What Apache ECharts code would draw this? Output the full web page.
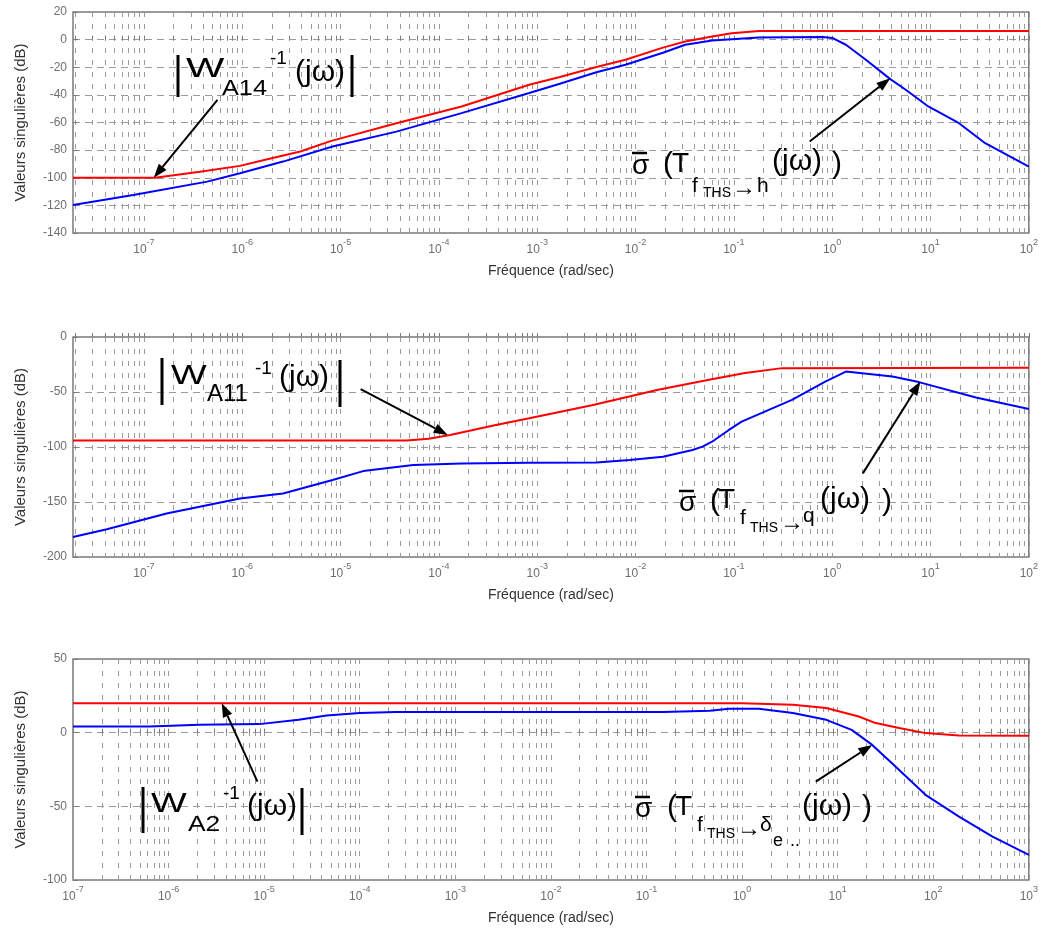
<!DOCTYPE html>
<html><head><meta charset="utf-8">
<script src="https://cdn.jsdelivr.net/npm/echarts@6.0.0/dist/echarts.min.js"></script>
<style>html,body{margin:0;padding:0;background:#fff}#c{width:1041px;height:930px}</style>
</head><body><div id="c"></div>
<script>
// ---------- DATA ----------
// Plot 1 : |W_A14^-1| (red) and sigma(T f->h) (blue)
const w1Red  = [1.9e-8, 1.3e-7, 3.7e-7, 9.5e-7, 1.8e-6, 3.9e-6, 7.9e-6, 3.7e-5, 1.7e-4, 8.3e-4, 1.7e-3, 4e-3, 7.9e-3, 1.9e-2, 3.2e-2, 6e-2, 9.5e-2, 0.18, 100];
const db1Red = [-100, -100, -95.6, -91.4, -86.6, -81, -73.5, -60.5, -48.4, -32.7, -27.1, -19.8, -14.6, -5.8, -1.3, 2.3, 4.6, 6.2, 6.2];
const w1Blue  = [1.9e-8, 7.8e-8, 4.4e-7, 9.5e-7, 2.6e-6, 8.3e-6, 3.7e-5, 1.7e-4, 8.3e-4, 1.7e-3, 4e-3, 7.9e-3, 1.9e-2, 3.2e-2, 6e-2, 0.18, 0.8, 1, 1.38, 2.2, 3.9, 5.6, 9.5, 19.5, 36, 100];
const db1Blue = [-119.7, -112.5, -102.8, -96.7, -88.3, -77.4, -66.6, -53.2, -38.7, -32, -23.6, -18.2, -9.5, -3.7, -0.6, 1.6, 1.9, 1.2, -3.7, -14.6, -28.6, -36.3, -48.4, -60.5, -75, -92];
// Plot 2 : |W_A11^-1| (red) and sigma(T f->q) (blue)
const w2Red  = [1.9e-8, 4.7e-5, 7.9e-5, 1.3e-4, 3.8e-4, 8.3e-4, 3.6e-3, 1.7e-2, 5.6e-2, 0.13, 0.31, 100];
const db2Red = [-94, -94, -92.5, -89, -80, -73.9, -62, -48, -38.9, -32.8, -28.3, -28];
const w2Blue  = [1.9e-8, 4.2e-8, 1.7e-7, 9.5e-7, 2.6e-6, 8.3e-6, 1.7e-5, 5.5e-5, 1.7e-4, 8.3e-4, 4e-3, 8.7e-3, 1.9e-2, 3.8e-2, 4.8e-2, 6e-2, 8.9e-2, 0.12, 0.39, 0.85, 1.38, 4.1, 7.6, 29, 100];
const db2Blue = [-181.8, -174.8, -160.4, -146.8, -142.2, -130, -121.9, -116.4, -114.9, -114.3, -114, -111.8, -108.8, -102.7, -99.7, -95.2, -84.5, -76.9, -57.2, -40.5, -31.4, -35.9, -41, -55, -65.4];
// Plot 3 : |W_A2^-1| (red) and sigma(T f->delta_e) (blue)
const w3Red  = [1e-7, 1, 3.4, 7.6, 16.6, 25, 44, 83, 186, 1000];
const db3Red = [20, 20, 19, 16.7, 11, 6.5, 3.1, -0.3, -1.9, -2.1];
const w3Blue  = [1e-7, 6.3e-7, 2.1e-6, 8.9e-6, 2.3e-5, 4.5e-5, 1e-4, 2.4e-4, 6e-3, 0.15, 0.46, 0.73, 1, 1.5, 3.4, 7.6, 14, 23, 37, 83, 186, 417, 1000];
const db3Blue = [4.2, 4.2, 5.3, 5.8, 8.7, 11.7, 13.3, 14, 14, 14, 14.9, 16.2, 16.2, 16.2, 13.3, 8.7, 1.9, -8.3, -20.7, -42.2, -57, -70.6, -83];

// axes ranges / tick labels
const xRange = [[1.9e-8, 100], [1.9e-8, 100], [1e-7, 1000]];
const xExp = [[-7, -6, -5, -4, -3, -2, -1, 0, 1, 2], [-7, -6, -5, -4, -3, -2, -1, 0, 1, 2], [-7, -6, -5, -4, -3, -2, -1, 0, 1, 2, 3]];
const yRange = [[-140, 20, 20], [-200, 0, 50], [-100, 50, 50]];

// arrows [grid, fromW, fromDb, toW, toDb]
const arrows = [
  [0, 5.6e-7, -43.6, 1.26e-7, -100],
  [0, 0.59, -73.8, 3.9, -27.9],
  [1, 1.6e-5, -47.4, 1.23e-4, -89],
  [1, 2.05, -124, 7.9, -40.5],
  [2, 8.5e-6, -33.2, 3.6e-6, 20],
  [2, 5.9, -33.2, 23, -8.3]
];

// ---------- LAYOUT ----------
const FONT = "'Liberation Sans', Arial, Helvetica, sans-serif";
const grids = [
  {left: 73, right: 11, top: 12, height: 221},
  {left: 73, right: 11, top: 337, height: 220},
  {left: 73, right: 11, top: 659, height: 221}
];
const tickGray = '#6e6e6e', frame = '#7a7a7a', gridCol = '#9a9a9a';

function minorVals(min, max) {
  const out = [];
  const lo = Math.floor(Math.log10(min)), hi = Math.ceil(Math.log10(max));
  for (let e = lo; e <= hi; e++) for (let k = 1; k <= 9; k++) {
    const v = Number(k + 'e' + e);
    if (v >= min * 0.9999 && v <= max * 1.0001) out.push(v);
  }
  return out;
}

const xAxes = [], yAxes = [], series = [];
const reds = [[w1Red, db1Red], [w2Red, db2Red], [w3Red, db3Red]];
const blues = [[w1Blue, db1Blue], [w2Blue, db2Blue], [w3Blue, db3Blue]];
for (let i = 0; i < 3; i++) {
  grids[i].show = true; grids[i].borderColor = frame; grids[i].borderWidth = 1.5; grids[i].backgroundColor = 'transparent';
  xAxes.push({
    gridIndex: i, type: 'log', logBase: 10, min: xRange[i][0], max: xRange[i][1],
    axisLine: {show: false},
    axisTick: {show: true, inside: true, length: 4, customValues: minorVals(xRange[i][0], xRange[i][1]), lineStyle: {color: frame}},
    axisLabel: {
      customValues: xExp[i].map(e => Number('1e' + e)), margin: 5, showMinLabel: true, showMaxLabel: true,
      formatter: v => '{b|10}{s|' + Math.round(Math.log10(v)) + '}',
      rich: {
        b: {fontSize: 12, fontFamily: FONT, color: tickGray, padding: [6, 0, 0, 0], verticalAlign: 'bottom'},
        s: {fontSize: 9, fontFamily: FONT, color: tickGray, verticalAlign: 'top'}
      }
    },
    splitLine: {show: true, lineStyle: {color: gridCol, width: 1, type: [5, 7]}},
    name: 'Fréquence (rad/sec)', nameLocation: 'middle', nameGap: 31,
    nameTextStyle: {fontSize: 14, fontFamily: FONT, color: '#333'}
  });
  yAxes.push({
    gridIndex: i, type: 'value', min: yRange[i][0], max: yRange[i][1], interval: yRange[i][2],
    axisLine: {show: false},
    axisTick: {show: true, inside: true, length: 5, lineStyle: {color: frame}},
    axisLabel: {fontSize: 12, fontFamily: FONT, color: tickGray, margin: 6},
    splitLine: {show: true, lineStyle: {color: gridCol, width: 1, type: [7, 5]}},
    name: 'Valeurs singulières (dB)', nameLocation: 'middle', nameGap: 45,
    nameTextStyle: {fontSize: 15, fontFamily: FONT, color: '#333'}
  });
  series.push({
    type: 'line', xAxisIndex: i, yAxisIndex: i, showSymbol: false, symbol: 'none', silent: true,
    lineStyle: {color: '#ff0000', width: 2}, z: 3,
    data: reds[i][0].map((w, k) => [w, reds[i][1][k]])
  });
  series.push({
    type: 'line', xAxisIndex: i, yAxisIndex: i, showSymbol: false, symbol: 'none', silent: true,
    lineStyle: {color: '#0000ff', width: 2}, z: 2,
    data: blues[i][0].map((w, k) => [w, blues[i][1][k]])
  });
}

const chart = echarts.init(document.getElementById('c'), null, {renderer: 'canvas'});
chart.setOption({
  animation: false, backgroundColor: '#fff',
  grid: grids, xAxis: xAxes, yAxis: yAxes, series: series
});

// ---------- ANNOTATIONS ----------
function T(str, x, base, size, sx) {
  return {type: 'text', x: x, y: base - 0.31 * size, scaleX: sx || 1, z: 100,
    style: {text: str, fontSize: size, fontFamily: FONT, fill: '#000', align: 'left', verticalAlign: 'middle'}};
}
function bar(x, y1, y2, w) {
  return {type: 'line', z: 100, shape: {x1: x, y1: y1, x2: x, y2: y2}, style: {stroke: '#000', lineWidth: w || 3}};
}
function hbar(x1, x2, y) {
  return {type: 'line', z: 100, shape: {x1: x1, y1: y, x2: x2, y2: y}, style: {stroke: '#000', lineWidth: 2.5}};
}
const g = [];
// |W_A14^-1(jw)|
g.push(bar(178, 55, 97), T('W', 186, 78, 28, 1.45), T('A14', 222, 96, 22, 1.15), T('-1', 270, 65, 19), T('(jω)', 295, 82, 30), bar(352, 55, 97));
// |W_A11^-1(jw)|
g.push(bar(162, 358, 405), T('W', 171, 385, 28, 1.35), T('A11', 207, 402, 24), T('-1', 255, 375, 19), T('(jω)', 279, 387, 30), bar(340, 360, 407));
// |W_A2^-1(jw)|
g.push(bar(143, 787, 833), T('W', 151, 813, 28, 1.35), T('A2', 188, 832, 22, 1.2), T('-1', 223, 800, 19), T('(jω)', 247, 816, 30), bar(302, 788, 835));
// sigma top
g.push(T('σ', 632, 175, 28), hbar(632, 647, 153), T('(', 663, 174, 30), T('T', 672, 173, 28), T('f', 692, 193, 21),
  T('THS', 703, 197, 14), T('→', 732, 196, 24), T('h', 757, 193, 21), T('(jω)', 772, 171, 30), T(')', 832, 174, 30));
// sigma middle
g.push(T('σ', 679, 512, 28), hbar(679, 694, 491), T('(', 710, 511, 30), T('T', 718, 509, 28), T('f', 740, 525, 21),
  T('THS', 750, 532, 14), T('→', 780, 531, 24), T('q', 803, 523, 21), T('(jω)', 820, 509, 30), T(')', 882, 511, 30));
// sigma bottom
g.push(T('σ', 635, 818, 28), hbar(635, 650, 797), T('(', 667, 817, 30), T('T', 675, 816, 28), T('f', 697, 832, 21),
  T('THS', 707, 838, 14), T('→', 737, 837, 24), T('δ', 760, 832, 21), T('e', 773, 847, 18), T('..', 790, 847, 18),
  T('(jω)', 802, 816, 30), T(')', 862, 817, 30));
// arrows
arrows.forEach(a => {
  const p0 = chart.convertToPixel({gridIndex: a[0]}, [a[1], a[2]]);
  const p1 = chart.convertToPixel({gridIndex: a[0]}, [a[3], a[4]]);
  const dx = p1[0] - p0[0], dy = p1[1] - p0[1], L = Math.hypot(dx, dy);
  const ux = dx / L, uy = dy / L, hl = 14, hw = 5;
  const bx = p1[0] - ux * hl, by = p1[1] - uy * hl;
  g.push({type: 'line', z: 100, shape: {x1: p0[0], y1: p0[1], x2: bx, y2: by}, style: {stroke: '#000', lineWidth: 2}});
  g.push({type: 'polygon', z: 100, shape: {points: [[p1[0], p1[1]], [bx - uy * hw, by + ux * hw], [bx + uy * hw, by - ux * hw]]}, style: {fill: '#000'}});
});
chart.setOption({graphic: g});
</script></body></html>
